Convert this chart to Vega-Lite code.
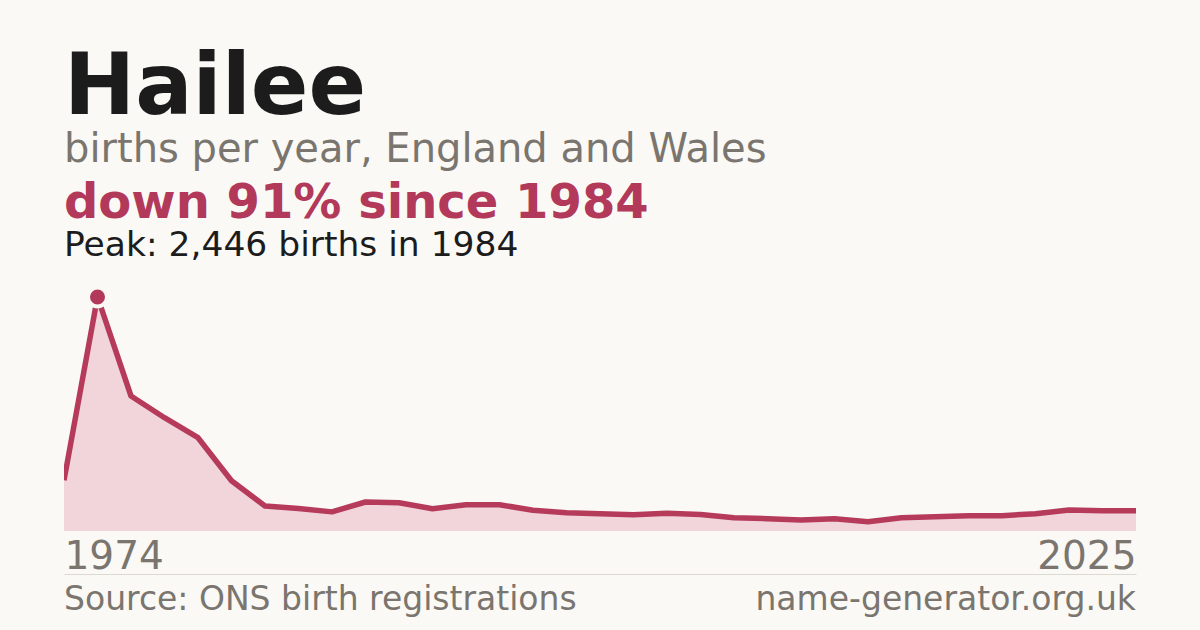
{
  "$schema": "https://vega.github.io/schema/vega-lite/v6.json",
  "background": "#faf9f5",
  "padding": {"left": 64, "right": 64, "top": 45, "bottom": 21},
  "config": {
    "font": "DejaVu Sans",
    "view": {"stroke": null}
  },
  "title": {
    "text": "Hailee",
    "subtitle": "births per year, England and Wales",
    "anchor": "start",
    "fontSize": 85,
    "fontWeight": "bold",
    "color": "#1c1c1c",
    "subtitleFontSize": 40,
    "subtitleColor": "#7a756e",
    "subtitlePadding": -2,
    "offset": 9
  },
  "datasets": {
    "births": [
      {"year": 1974, "births": 530},
      {"year": 1984, "births": 2446},
      {"year": 1994, "births": 1411},
      {"year": 1996, "births": 1184},
      {"year": 1997, "births": 975},
      {"year": 1998, "births": 525},
      {"year": 1999, "births": 261},
      {"year": 2000, "births": 236},
      {"year": 2001, "births": 200},
      {"year": 2002, "births": 303},
      {"year": 2003, "births": 295},
      {"year": 2004, "births": 233},
      {"year": 2005, "births": 275},
      {"year": 2006, "births": 275},
      {"year": 2007, "births": 216},
      {"year": 2008, "births": 191},
      {"year": 2009, "births": 181},
      {"year": 2010, "births": 170},
      {"year": 2011, "births": 185},
      {"year": 2012, "births": 172},
      {"year": 2013, "births": 139},
      {"year": 2014, "births": 129},
      {"year": 2015, "births": 115},
      {"year": 2016, "births": 129},
      {"year": 2017, "births": 97},
      {"year": 2018, "births": 139},
      {"year": 2019, "births": 150},
      {"year": 2020, "births": 160},
      {"year": 2021, "births": 160},
      {"year": 2022, "births": 181},
      {"year": 2023, "births": 219},
      {"year": 2024, "births": 212},
      {"year": 2025, "births": 212}
    ]
  },
  "bounds": "flush",
  "spacing": 43,
  "vconcat": [
    {
      "width": 1072,
      "height": 250,
      "title": {
        "text": "down 91% since 1984",
        "subtitle": "Peak: 2,446 births in 1984",
        "anchor": "start",
        "fontSize": 48,
        "fontWeight": "bold",
        "color": "#b3395a",
        "subtitleFontSize": 34.5,
        "subtitleColor": "#1c1c1c",
        "subtitlePadding": 1,
        "offset": 17
      },
      "data": {"name": "births"},
      "encoding": {
        "x": {
          "field": "year",
          "type": "ordinal",
          "scale": {"type": "point", "padding": 0},
          "axis": {
            "values": [1974, 2025],
            "title": null,
            "domain": false,
            "ticks": false,
            "labelAngle": 0,
            "labelFontSize": 39,
            "labelColor": "#7a756e",
            "labelPadding": 6,
            "labelBaseline": "top",
            "labelAlign": {"condition": {"test": "datum.value == 1974", "value": "left"}, "value": "right"}
          }
        },
        "y": {
          "field": "births",
          "type": "quantitative",
          "scale": {"domain": [0, 2613], "nice": false},
          "axis": null
        }
      },
      "layer": [
        {"mark": {"type": "area", "color": "#f1d5db", "clip": true}},
        {"mark": {"type": "line", "color": "#b63a5a", "strokeWidth": 5.5, "strokeJoin": "round", "clip": true}},
        {
          "transform": [{"filter": "datum.year == 1984"}],
          "mark": {"type": "point", "filled": true, "size": 361, "fill": "#b3395a", "stroke": "#faf9f5", "strokeWidth": 4, "opacity": 1}
        }
      ]
    },
    {
      "width": 1072,
      "height": 36,
      "data": {"values": [{}]},
      "layer": [
        {
          "mark": {"type": "text", "text": "Source: ONS birth registrations", "align": "left", "baseline": "alphabetic", "fontSize": 33, "color": "#7a756e"},
          "encoding": {
            "x": {"datum": 0, "type": "quantitative", "scale": {"domain": [0, 1]}, "axis": {"orient": "top", "domain": true, "domainColor": "#dcd9d2", "domainWidth": 1, "ticks": false, "labels": false, "grid": false, "title": null}},
            "y": {"datum": 0, "type": "quantitative", "scale": {"domain": [0, 1]}, "axis": null}
          }
        },
        {
          "mark": {"type": "text", "text": "name-generator.org.uk", "align": "right", "baseline": "alphabetic", "fontSize": 33, "color": "#7a756e"},
          "encoding": {
            "x": {"datum": 1, "type": "quantitative"},
            "y": {"datum": 0, "type": "quantitative"}
          }
        }
      ]
    }
  ]
}
